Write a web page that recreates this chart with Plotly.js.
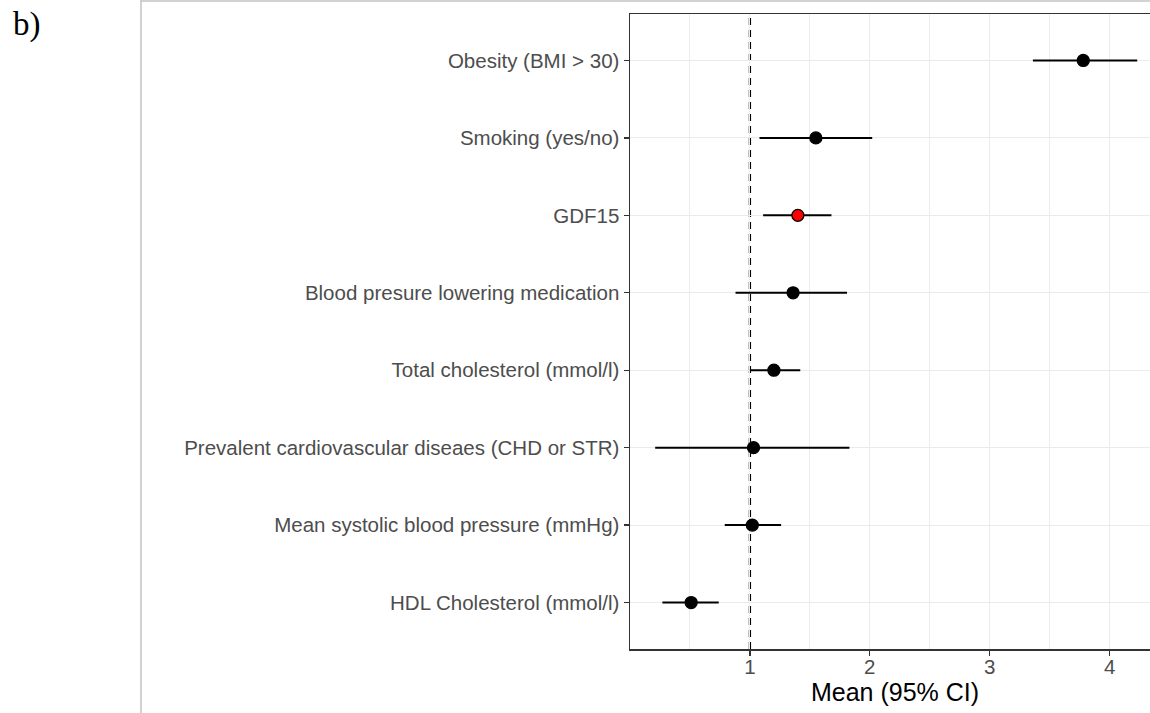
<!DOCTYPE html>
<html>
<head>
<meta charset="utf-8">
<script src="https://cdn.plot.ly/plotly-3.0.1.min.js"></script>
<style>
html, body { margin: 0; padding: 0; overflow: hidden; background: #fff; }
#chart { width: 1160px; height: 713px; }
</style>
</head>
<body>
<div id="chart"></div>
<script>
// Categories listed from top to bottom
const categories = [
  "Obesity (BMI > 30)",
  "Smoking (yes/no)",
  "GDF15",
  "Blood presure lowering medication",
  "Total cholesterol (mmol/l)",
  "Prevalent cardiovascular diseaes (CHD or STR)",
  "Mean systolic blood pressure (mmHg)",
  "HDL Cholesterol (mmol/l)"
];
const meanValues = [3.78, 1.55, 1.40, 1.36, 1.20, 1.03, 1.02, 0.51];
const ciLower    = [3.36, 1.08, 1.11, 0.88, 1.00, 0.21, 0.79, 0.27];
const ciUpper    = [4.23, 2.02, 1.68, 1.81, 1.42, 1.83, 1.26, 0.74];
const highlighted = "GDF15";
const xTickValues = [1, 2, 3, 4];
const xTickLabels = ["1", "2", "3", "4"];
const referenceValue = 1;

const errPlus = meanValues.map((m, i) => ciUpper[i] - m);
const errMinus = meanValues.map((m, i) => m - ciLower[i]);
const pointColors = categories.map(c => c === highlighted ? "#ff0000" : "#000000");

const trace = {
  type: "scatter",
  mode: "markers",
  x: meanValues,
  y: categories,
  marker: { size: 12, color: pointColors, line: { color: "#000000", width: 1.3 } },
  error_x: {
    type: "data", symmetric: false,
    array: errPlus, arrayminus: errMinus,
    color: "#000000", thickness: 2, width: 0
  },
  hoverinfo: "skip",
  showlegend: false
};

const PL = 630, PR = 1160, PT = 14, PB = 649;
const px = v => (v - PL) / (PR - PL);
const py = v => (PB - v) / (PB - PT);

const layout = {
  width: 1160, height: 713,
  margin: { l: PL, r: 1160 - PR, t: PT, b: 713 - PB, pad: 0 },
  paper_bgcolor: "#ffffff",
  plot_bgcolor: "#ffffff",
  font: { family: "Liberation Sans, Arial, sans-serif", color: "#4d4d4d" },
  xaxis: {
    range: [0.0, 4.42],
    tickvals: xTickValues,
    ticktext: xTickLabels,
    tickfont: { size: 20.5, color: "#4d4d4d" },
    ticks: "outside", ticklen: 5, tickwidth: 1.3, tickcolor: "#333333",
    ticklabelstandoff: -6,
    showgrid: true, gridcolor: "#ebebeb", gridwidth: 1.1,
    minor: { dtick: 0.5, tick0: 0.5, showgrid: true, gridcolor: "#ededed", gridwidth: 1, ticks: "" },
    showline: true, mirror: true, linecolor: "#333333", linewidth: 1.5,
    zeroline: false,
    title: { text: "Mean (95% CI)", font: { size: 25, color: "#000000" }, standoff: 0 }
  },
  yaxis: {
    type: "category",
    categoryorder: "array",
    categoryarray: categories.slice().reverse(),
    range: [-0.6, 7.6],
    tickfont: { size: 20.5, color: "#4d4d4d" },
    ticks: "outside", ticklen: 5, tickwidth: 1.3, tickcolor: "#333333",
    showgrid: true, gridcolor: "#ebebeb", gridwidth: 1.1,
    showline: true, mirror: false, linecolor: "#333333", linewidth: 1.5,
    zeroline: false
  },
  shapes: [
    { type: "line", xref: "x", yref: "paper", x0: referenceValue, x1: referenceValue, y0: 0, y1: 1,
      line: { color: "#000000", width: 2.3, dash: "7px,5px" }, layer: "below" },
    { type: "line", xref: "paper", yref: "paper", x0: px(141), x1: px(141), y0: py(0), y1: py(713),
      line: { color: "#c3c3c3", width: 1.5 } },
    { type: "line", xref: "paper", yref: "paper", x0: px(141), x1: px(1160), y0: py(1), y1: py(1),
      line: { color: "#c3c3c3", width: 1.5 } }
  ],
  annotations: [
    { text: "b)", xref: "paper", yref: "paper", x: px(11), y: py(4), xanchor: "left", yanchor: "top",
      showarrow: false, font: { family: "Liberation Serif, Times New Roman, serif", size: 33, color: "#000000" } }
  ]
};

Plotly.newPlot("chart", [trace], layout, { staticPlot: true, displayModeBar: false });
</script>
</body>
</html>
